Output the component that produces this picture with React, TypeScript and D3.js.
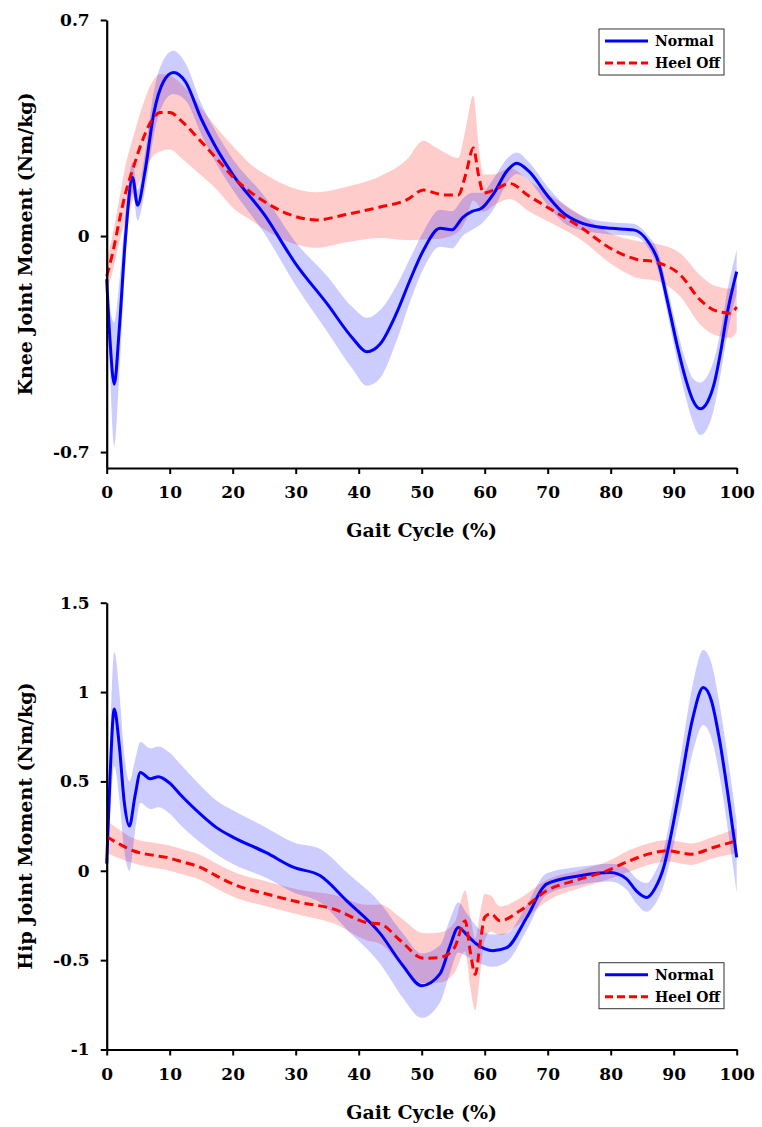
import React, { useEffect, useRef } from "react";
import * as d3 from "d3";

// ---------- Data ----------
const gaitTicks = [0, 10, 20, 30, 40, 50, 60, 70, 80, 90, 100];
const kneeTicks = [0.7, 0, -0.7];
const hipTicks = [1.5, 1, 0.5, 0, -0.5, -1];
const seriesNames = ["Normal", "Heel Off"];

// Knee – Normal
const kneeNormalPct = [0, 0.5, 1.2, 2, 3, 4.1, 4.9, 6, 7.5, 9, 10.6, 12.5, 15, 17, 20, 25, 30, 35, 39, 41.3, 43.4, 46, 48.2, 50.3, 52.9, 54.8, 56.5, 58, 59.5, 61.5, 63.5, 65.1, 67, 70, 72.5, 75, 77.8, 80, 83.6, 86, 87.5, 89, 90.5, 92, 93, 94.2, 95.3, 96.4, 97.5, 98.4, 100];
const kneeNormalMean = [-0.14, -0.33, -0.48, -0.3, 0.0, 0.19, 0.1, 0.2, 0.4, 0.5, 0.53, 0.5, 0.38, 0.3, 0.2, 0.07, -0.09, -0.22, -0.33, -0.375, -0.35, -0.25, -0.14, -0.045, 0.025, 0.02, 0.06, 0.08, 0.09, 0.14, 0.21, 0.236, 0.21, 0.13, 0.074, 0.045, 0.03, 0.025, 0.02, -0.02, -0.08, -0.21, -0.35, -0.47, -0.53, -0.56, -0.54, -0.48, -0.37, -0.26, -0.115];
const kneeNormalSD = [0.03, 0.1, 0.2, 0.15, 0.08, 0.05, 0.05, 0.06, 0.07, 0.07, 0.07, 0.06, 0.05, 0.05, 0.05, 0.06, 0.07, 0.09, 0.1, 0.11, 0.11, 0.09, 0.07, 0.06, 0.06, 0.06, 0.06, 0.06, 0.05, 0.05, 0.04, 0.035, 0.03, 0.03, 0.03, 0.025, 0.02, 0.02, 0.02, 0.02, 0.03, 0.04, 0.05, 0.06, 0.07, 0.085, 0.085, 0.08, 0.07, 0.07, 0.07];

// Knee – Heel Off
const kneeHeelPct = [0, 1, 2, 3, 4.2, 5.5, 7, 8.5, 10, 12, 14.8, 17.5, 20.1, 23, 25.4, 29, 33.3, 38, 43.4, 47.6, 50.3, 52, 53.4, 55.8, 57, 58.2, 59, 59.8, 61.5, 64, 67, 69.8, 75.1, 80.4, 84, 87.2, 91, 94.2, 96.4, 99, 100];
const kneeHeelMean = [-0.13, -0.05, 0.05, 0.14, 0.22, 0.3, 0.37, 0.4, 0.4, 0.37, 0.31, 0.25, 0.19, 0.14, 0.107, 0.07, 0.052, 0.07, 0.094, 0.117, 0.149, 0.14, 0.133, 0.133, 0.2, 0.285, 0.2, 0.139, 0.15, 0.17, 0.13, 0.095, 0.03, -0.045, -0.075, -0.085, -0.125, -0.207, -0.24, -0.25, -0.23];
const kneeHeelSD = [0.05, 0.06, 0.07, 0.09, 0.1, 0.11, 0.12, 0.125, 0.12, 0.12, 0.11, 0.1, 0.1, 0.09, 0.09, 0.09, 0.09, 0.09, 0.1, 0.13, 0.16, 0.15, 0.14, 0.12, 0.15, 0.17, 0.1, 0.06, 0.05, 0.05, 0.05, 0.045, 0.04, 0.05, 0.06, 0.06, 0.07, 0.08, 0.08, 0.08, 0.08];

// Hip – Normal
const hipNormalPct = [0, 0.5, 1.2, 2, 2.8, 3.6, 4.5, 5.35, 6.9, 8.2, 10, 11.6, 14.8, 17.5, 20.1, 25.4, 29.6, 33.9, 38.1, 43.4, 47, 50, 52.9, 54.5, 55.8, 57.2, 58.7, 61.3, 63.5, 66.7, 69.8, 75.1, 79.9, 82.5, 84, 85.7, 87, 88.5, 89.4, 91, 93, 94.7, 96, 97.3, 98.8, 100];
const hipNormalMean = [0.04, 0.5, 0.905, 0.7, 0.38, 0.25, 0.42, 0.55, 0.515, 0.526, 0.49, 0.43, 0.32, 0.24, 0.187, 0.1, 0.02, -0.028, -0.168, -0.35, -0.53, -0.643, -0.577, -0.42, -0.317, -0.36, -0.41, -0.447, -0.43, -0.26, -0.075, -0.028, -0.01, -0.045, -0.11, -0.149, -0.1, 0.03, 0.17, 0.466, 0.85, 1.025, 0.95, 0.727, 0.38, 0.075];
const hipNormalSD = [0.05, 0.2, 0.32, 0.3, 0.27, 0.25, 0.2, 0.17, 0.17, 0.17, 0.17, 0.17, 0.16, 0.15, 0.15, 0.14, 0.14, 0.15, 0.16, 0.17, 0.18, 0.18, 0.16, 0.15, 0.14, 0.12, 0.1, 0.09, 0.08, 0.07, 0.06, 0.05, 0.05, 0.06, 0.07, 0.08, 0.09, 0.1, 0.12, 0.15, 0.19, 0.21, 0.21, 0.2, 0.2, 0.2];

// Hip – Heel Off
const hipHeelPct = [0, 2, 4.2, 7.9, 9.5, 12, 14.8, 17.5, 20.1, 25.4, 30.7, 36, 41.3, 43.4, 46.6, 50.3, 52.9, 55.2, 56.9, 57.7, 58.5, 59.3, 60, 61, 62.4, 65.6, 69.8, 75.1, 79.4, 83, 86.7, 89, 92.7, 96.3, 100];
const hipHeelMean = [0.19, 0.15, 0.112, 0.084, 0.075, 0.05, 0.02, -0.03, -0.075, -0.13, -0.177, -0.214, -0.29, -0.298, -0.39, -0.49, -0.485, -0.43, -0.28, -0.45, -0.58, -0.4, -0.26, -0.24, -0.28, -0.224, -0.112, -0.047, 0.0, 0.056, 0.1, 0.112, 0.093, 0.13, 0.168];
const hipHeelSD = [0.09, 0.08, 0.07, 0.07, 0.07, 0.07, 0.07, 0.07, 0.07, 0.07, 0.07, 0.08, 0.1, 0.11, 0.13, 0.14, 0.14, 0.14, 0.17, 0.2, 0.2, 0.17, 0.13, 0.1, 0.08, 0.07, 0.06, 0.05, 0.05, 0.06, 0.06, 0.06, 0.06, 0.06, 0.07];

// ---------- Layout ----------
const W = 762;
const H = 1127;
const X0 = 106.7;
const X1 = 736.7;
const FONT = "'DejaVu Serif', serif";
const BLUE = "#0000ff";
const RED = "#ff0000";

type Series = { pct: number[]; mean: number[]; sd: number[] };

function Panel(props: {
  top: number;
  bottom: number;
  domain: [number, number];
  ticks: number[];
  ylabel: string;
  normal: Series;
  heel: Series;
  legendY: number;
}) {
  const { top, bottom, domain, ticks, ylabel, normal, heel, legendY } = props;
  const xAxisRef = useRef<SVGGElement>(null);
  const yAxisRef = useRef<SVGGElement>(null);
  const x = d3.scaleLinear().domain([0, 100]).range([X0, X1]);
  const y = d3.scaleLinear().domain(domain).range([bottom, top]);

  useEffect(() => {
    const xa = d3
      .axisBottom(x)
      .tickValues(gaitTicks)
      .tickFormat((d) => String(d))
      .tickSize(6)
      .tickSizeOuter(0)
      .tickPadding(12);
    const ya = d3
      .axisLeft(y)
      .tickValues(ticks)
      .tickFormat((d) => String(d))
      .tickSize(6)
      .tickSizeOuter(0)
      .tickPadding(11);
    const gx = d3.select(xAxisRef.current!);
    gx.call(xa as any);
    const gy = d3.select(yAxisRef.current!);
    gy.call(ya as any);
    [gx, gy].forEach((g) => {
      g.selectAll("path.domain").attr("stroke", "#000").attr("stroke-width", 2.2);
      g.selectAll(".tick line").attr("stroke", "#000").attr("stroke-width", 2);
      g.selectAll(".tick text")
        .attr("fill", "#000")
        .style("font-family", FONT)
        .style("font-weight", "bold")
        .style("font-size", "17px");
    });
  });

  const curve = d3.curveMonotoneX;
  const mkArea = (s: Series) =>
    d3
      .area<number>()
      .x((_, i) => x(s.pct[i]))
      .y0((_, i) => y(s.mean[i] - s.sd[i]))
      .y1((_, i) => y(s.mean[i] + s.sd[i]))
      .curve(curve)(s.mean) || "";
  const mkLine = (s: Series) =>
    d3
      .line<number>()
      .x((_, i) => x(s.pct[i]))
      .y((d) => y(d))
      .curve(curve)(s.mean) || "";

  const midY = (top + bottom) / 2;
  const lx = 599;
  const lw = 125;
  const lh = 46;

  return (
    <g>
      <path d={mkArea(heel)} fill={RED} fillOpacity={0.2} stroke="none" />
      <path d={mkArea(normal)} fill={BLUE} fillOpacity={0.2} stroke="none" />
      <path d={mkLine(normal)} fill="none" stroke={BLUE} strokeWidth={3} />
      <path d={mkLine(heel)} fill="none" stroke={RED} strokeWidth={3} strokeDasharray="9,5" />
      <g ref={xAxisRef} transform={`translate(0,${bottom})`} />
      <g ref={yAxisRef} transform={`translate(${X0},0)`} />
      <text
        x={(X0 + X1) / 2}
        y={bottom + 69}
        textAnchor="middle"
        fontFamily={FONT}
        fontWeight="bold"
        fontSize={19}
      >
        Gait Cycle (%)
      </text>
      <text
        transform={`translate(32,${midY}) rotate(-90)`}
        textAnchor="middle"
        fontFamily={FONT}
        fontWeight="bold"
        fontSize={19}
      >
        {ylabel}
      </text>
      <g transform={`translate(${lx},${legendY})`}>
        <rect x={0} y={0} width={lw} height={lh} fill="#fff" stroke="#333" strokeWidth={1} />
        <line x1={6} x2={49} y1={12} y2={12} stroke={BLUE} strokeWidth={3} />
        <line x1={6} x2={49} y1={34} y2={34} stroke={RED} strokeWidth={3} strokeDasharray="8,4" />
        <text x={56} y={17} fontFamily={FONT} fontWeight="bold" fontSize={14}>
          {seriesNames[0]}
        </text>
        <text x={56} y={39} fontFamily={FONT} fontWeight="bold" fontSize={14}>
          {seriesNames[1]}
        </text>
      </g>
    </g>
  );
}

export default function App() {
  return (
    <svg
      width={W}
      height={H}
      viewBox={`0 0 ${W} ${H}`}
      style={{ position: "absolute", left: 0, top: 0, background: "#fff" }}
    >
      <rect width={W} height={H} fill="#fff" />
      <Panel
        top={20}
        bottom={468}
        domain={[-0.7516, 0.7]}
        ticks={kneeTicks}
        ylabel="Knee Joint Moment (Nm/kg)"
        normal={{ pct: kneeNormalPct, mean: kneeNormalMean, sd: kneeNormalSD }}
        heel={{ pct: kneeHeelPct, mean: kneeHeelMean, sd: kneeHeelSD }}
        legendY={29}
      />
      <Panel
        top={602.7}
        bottom={1049.5}
        domain={[-1, 1.5]}
        ticks={hipTicks}
        ylabel="Hip Joint Moment (Nm/kg)"
        normal={{ pct: hipNormalPct, mean: hipNormalMean, sd: hipNormalSD }}
        heel={{ pct: hipHeelPct, mean: hipHeelMean, sd: hipHeelSD }}
        legendY={962.7}
      />
    </svg>
  );
}
